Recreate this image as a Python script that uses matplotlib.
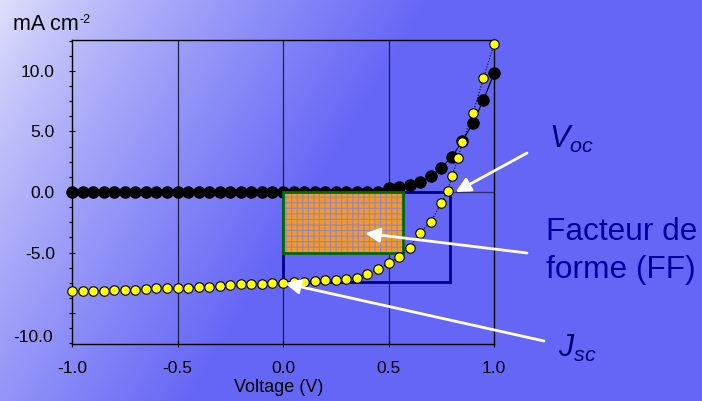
import numpy as np
import matplotlib
matplotlib.use('Agg')
import matplotlib.pyplot as plt
from matplotlib.patches import Rectangle
from matplotlib.ticker import MultipleLocator

plt.rcParams['font.family'] = ['Liberation Sans', 'DejaVu Sans']
plt.rcParams['mathtext.fontset'] = 'custom'
plt.rcParams['mathtext.rm'] = 'Liberation Sans'
plt.rcParams['mathtext.it'] = 'Liberation Sans:italic'
plt.rcParams['hatch.linewidth'] = 0.8

# Dunkelkennlinie (schwarz)
V_dark = np.round(np.arange(-1.0, 1.0001, 0.05), 2)
J_dark = np.array([0.0] * 30 + [0.3, 0.4, 0.55, 0.85, 1.3, 2.0, 2.9, 4.2, 5.7, 7.6, 9.8])

# Hellkennlinie (gelb)
V_light = np.array([-1.0, -0.95, -0.9, -0.85, -0.8, -0.75, -0.7, -0.65, -0.6, -0.55,
                    -0.5, -0.45, -0.4, -0.35, -0.3, -0.25, -0.2, -0.15, -0.1, -0.05,
                    0.0, 0.05, 0.1, 0.15, 0.2, 0.25, 0.3, 0.35, 0.4, 0.45,
                    0.5, 0.55, 0.6, 0.65, 0.7, 0.75, 0.78, 0.8, 0.83, 0.85,
                    0.9, 0.95, 1.0])
J_light = np.array([-8.22, -8.2, -8.17, -8.17, -8.12, -8.06, -8.06, -8.0, -7.95, -7.95,
                    -7.92, -7.9, -7.86, -7.81, -7.73, -7.7, -7.64, -7.59, -7.59, -7.54,
                    -7.5, -7.4, -7.4, -7.34, -7.3, -7.26, -7.2, -7.07, -6.8, -6.35,
                    -5.9, -5.4, -4.6, -3.37, -2.46, -0.93, 0.1, 1.3, 2.77, 4.1,
                    6.5, 9.4, 12.2])

# Kenngroessen
Voc = 0.79
Jsc = -7.4
Vmp = 0.57
Jmp = -5.07

xticks = [-1.0, -0.5, 0.0, 0.5, 1.0]
yticks = [-10.0, -5.0, 0.0, 5.0, 10.0]

fig = plt.figure(figsize=(7.02, 4.01), dpi=100)

# Hintergrund-Verlauf
bg = fig.add_axes([0, 0, 1, 1], zorder=-10)
yy, xx = np.mgrid[0:401, 0:702]
s = np.clip(xx / 430 + yy / 720, 0, 1) ** 0.8
c0 = np.array([226, 226, 252]) / 255
c1 = np.array([102, 102, 246]) / 255
img = c0[None, None, :] * (1 - s[..., None]) + c1[None, None, :] * s[..., None]
bg.imshow(img, aspect='auto', extent=[0, 1, 0, 1])
bg.axis('off')

ax = fig.add_axes([72 / 702, 57 / 401, 422 / 702, 304 / 401])
ax.patch.set_alpha(0)
ax.set_xlim(-1.0, 1.0)
ax.set_ylim(-12.56, 12.56)

for x in [-0.5, 0.0, 0.5]:
    ax.axvline(x, color='#202040', lw=0.9, zorder=1)
ax.axhline(0, color='#303070', lw=1.0, zorder=1)

ax.plot(V_dark, J_dark, '-', color='black', lw=0.8, zorder=3)
ax.plot(V_dark, J_dark, 'o', ms=8.0, mfc='black', mec='black', zorder=3, clip_on=False)

# Rechtecke: Voc*Jsc und Punkt maximaler Leistung
ax.add_patch(Rectangle((0, Jsc), Voc, -Jsc, fill=False, ec='#000088', lw=2.0, zorder=4))
ax.add_patch(Rectangle((0, Jmp), Vmp, -Jmp, fc='#f39a22', ec='#9a84c0', hatch='+++',
                       lw=0, zorder=4))
ax.add_patch(Rectangle((0, Jmp), Vmp, -Jmp, fill=False, ec='#006a00', lw=2.0, zorder=4))

ax.plot(V_light, J_light, ':', color='black', lw=0.8, zorder=5)
ax.plot(V_light, J_light, 'o', ms=6.8, mfc='#ffff00', mec='black', mew=0.8, zorder=5,
        clip_on=False)

ax.set_xticks(xticks)
ax.set_xticklabels([f'{v:.1f}' for v in xticks])
ax.set_yticks(yticks)
ax.set_yticklabels([''] + [f'{v:.1f}' for v in yticks[1:]])
ax.yaxis.set_minor_locator(MultipleLocator(1.25))
ax.tick_params(axis='y', which='major', direction='inout', length=4.5, width=0.8,
               labelsize=12.5, pad=10)
ax.tick_params(axis='y', which='minor', direction='out', length=2.5, width=0.8)
ax.tick_params(axis='x', which='major', direction='inout', length=4.5, width=0.8,
               labelsize=12.5, pad=10)
ax.tick_params(top=False, right=False)
for sp in ax.spines.values():
    sp.set_linewidth(1.0)

# "-10.0" sitzt im Original tiefer als der Tick
ax.annotate('-10.0', xy=(0, -12.0), xycoords=('axes fraction', 'data'),
            xytext=(-13.5, 0), textcoords='offset points', ha='right', va='center',
            fontsize=12.5)

fig.text(279 / 702, 1 - 388 / 401, 'Voltage (V)', ha='center', va='center', fontsize=13)
fig.text(13 / 702, 1 - 30 / 401, 'mA cm', ha='left', va='baseline', fontsize=15.5)
fig.text(80 / 702, 1 - 23 / 401, '-2', ha='left', va='baseline', fontsize=9)

# Pfeile
arrow = dict(arrowstyle='-|>', color='white', lw=2.0, mutation_scale=22,
             shrinkA=0, shrinkB=0)
ax.annotate('', xy=(0.818, 0.0), xytext=(527, 401 - 153), textcoords='figure pixels',
            arrowprops=arrow, zorder=6)
ax.annotate('', xy=(0.389, -3.41), xytext=(527, 401 - 253), textcoords='figure pixels',
            arrowprops=arrow, zorder=6)
ax.annotate('', xy=(0.01, -7.55), xytext=(544, 401 - 341), textcoords='figure pixels',
            arrowprops=arrow, zorder=6, annotation_clip=False)

fig.text(549 / 702, 1 - 148 / 401, r'$V_{oc}$', ha='left', va='baseline',
         fontsize=22, color='#00007a')
fig.text(546 / 702, 1 - 240 / 401, 'Facteur de', ha='left', va='baseline',
         fontsize=22.8, color='#00009c')
fig.text(546 / 702, 1 - 278 / 401, 'forme (FF)', ha='left', va='baseline',
         fontsize=22.8, color='#00009c')
fig.text(558 / 702, 1 - 357 / 401, r'$J_{sc}$', ha='left', va='baseline',
         fontsize=22, color='#00007a')

fig.savefig('out.png', dpi=100)
